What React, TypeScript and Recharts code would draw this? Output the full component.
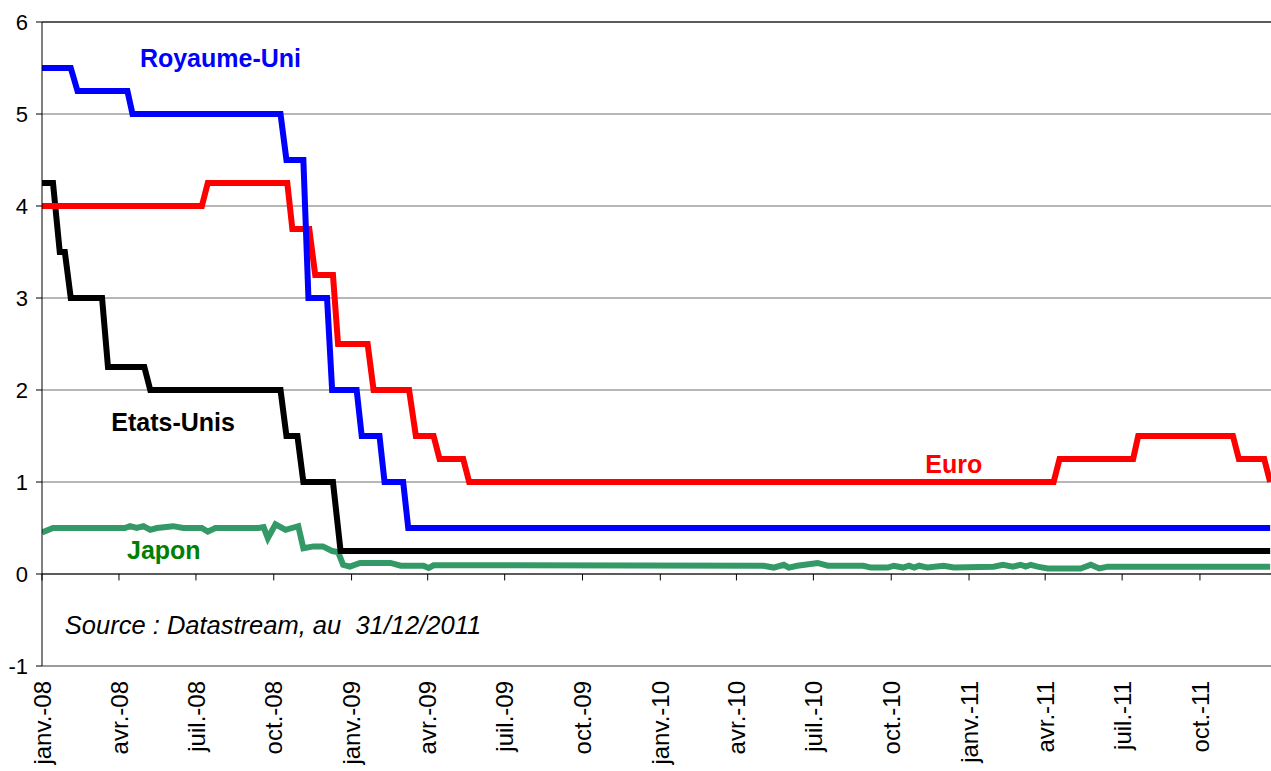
import {
  LineChart,
  Line,
  XAxis,
  YAxis,
  CartesianGrid,
  ReferenceLine,
  ReferenceDot,
} from "recharts";

// Policy rates, weekly sampling (corner points of each step)
const ROYAUME_UNI: [string, number][] = [
  ["2008-01-01", 5.5],
  ["2008-02-04", 5.5],
  ["2008-02-12", 5.25],
  ["2008-04-11", 5.25],
  ["2008-04-17", 5.0],
  ["2008-10-09", 5.0],
  ["2008-10-16", 4.5],
  ["2008-11-05", 4.5],
  ["2008-11-11", 3.0],
  ["2008-12-03", 3.0],
  ["2008-12-09", 2.0],
  ["2009-01-07", 2.0],
  ["2009-01-13", 1.5],
  ["2009-02-03", 1.5],
  ["2009-02-09", 1.0],
  ["2009-03-03", 1.0],
  ["2009-03-09", 0.5],
  ["2011-12-23", 0.5],
];

const EURO: [string, number][] = [
  ["2008-01-01", 4.0],
  ["2008-07-08", 4.0],
  ["2008-07-15", 4.25],
  ["2008-10-17", 4.25],
  ["2008-10-23", 3.75],
  ["2008-11-12", 3.75],
  ["2008-11-19", 3.25],
  ["2008-12-10", 3.25],
  ["2008-12-16", 2.5],
  ["2009-01-20", 2.5],
  ["2009-01-27", 2.0],
  ["2009-03-10", 2.0],
  ["2009-03-18", 1.5],
  ["2009-04-08", 1.5],
  ["2009-04-15", 1.25],
  ["2009-05-13", 1.25],
  ["2009-05-20", 1.0],
  ["2011-04-11", 1.0],
  ["2011-04-18", 1.25],
  ["2011-07-14", 1.25],
  ["2011-07-20", 1.5],
  ["2011-11-09", 1.5],
  ["2011-11-16", 1.25],
  ["2011-12-16", 1.25],
  ["2011-12-23", 1.0],
];

const ETATS_UNIS: [string, number][] = [
  ["2008-01-01", 4.25],
  ["2008-01-14", 4.25],
  ["2008-01-22", 3.5],
  ["2008-01-28", 3.5],
  ["2008-02-04", 3.0],
  ["2008-03-12", 3.0],
  ["2008-03-19", 2.25],
  ["2008-05-01", 2.25],
  ["2008-05-08", 2.0],
  ["2008-10-09", 2.0],
  ["2008-10-16", 1.5],
  ["2008-10-29", 1.5],
  ["2008-11-05", 1.0],
  ["2008-12-10", 1.0],
  ["2008-12-19", 0.25],
  ["2011-12-23", 0.25],
];

const JAPON: [string, number][] = [
  ["2008-01-01", 0.45],
  ["2008-01-14", 0.5],
  ["2008-04-08", 0.5],
  ["2008-04-14", 0.52],
  ["2008-04-22", 0.5],
  ["2008-04-30", 0.52],
  ["2008-05-08", 0.48],
  ["2008-05-16", 0.5],
  ["2008-06-04", 0.52],
  ["2008-06-16", 0.5],
  ["2008-07-08", 0.5],
  ["2008-07-15", 0.46],
  ["2008-07-24", 0.5],
  ["2008-09-13", 0.5],
  ["2008-09-19", 0.51],
  ["2008-09-24", 0.39],
  ["2008-10-03", 0.54],
  ["2008-10-15", 0.48],
  ["2008-10-30", 0.52],
  ["2008-11-05", 0.28],
  ["2008-11-17", 0.3],
  ["2008-11-28", 0.3],
  ["2008-12-09", 0.25],
  ["2008-12-16", 0.24],
  ["2008-12-22", 0.1],
  ["2008-12-30", 0.08],
  ["2009-01-11", 0.12],
  ["2009-02-16", 0.12],
  ["2009-02-28", 0.09],
  ["2009-03-27", 0.09],
  ["2009-04-02", 0.065],
  ["2009-04-08", 0.095],
  ["2010-05-03", 0.09],
  ["2010-05-15", 0.07],
  ["2010-05-27", 0.1],
  ["2010-06-02", 0.07],
  ["2010-06-12", 0.09],
  ["2010-07-06", 0.12],
  ["2010-07-18", 0.09],
  ["2010-08-29", 0.09],
  ["2010-09-07", 0.07],
  ["2010-09-27", 0.07],
  ["2010-10-04", 0.09],
  ["2010-10-15", 0.07],
  ["2010-10-22", 0.09],
  ["2010-10-28", 0.07],
  ["2010-11-03", 0.09],
  ["2010-11-13", 0.07],
  ["2010-12-02", 0.09],
  ["2010-12-14", 0.07],
  ["2011-01-30", 0.08],
  ["2011-02-10", 0.1],
  ["2011-02-22", 0.08],
  ["2011-03-03", 0.1],
  ["2011-03-09", 0.08],
  ["2011-03-15", 0.1],
  ["2011-03-23", 0.08],
  ["2011-04-04", 0.06],
  ["2011-05-13", 0.06],
  ["2011-05-25", 0.1],
  ["2011-06-04", 0.06],
  ["2011-06-14", 0.08],
  ["2011-12-23", 0.08],
];

const TICK_DATES = [
  "2008-01-01", "2008-04-01", "2008-07-01", "2008-10-01",
  "2009-01-01", "2009-04-01", "2009-07-01", "2009-10-01",
  "2010-01-01", "2010-04-01", "2010-07-01", "2010-10-01",
  "2011-01-01", "2011-04-01", "2011-07-01", "2011-10-01",
];
const TICK_LABELS = [
  "janv.-08", "avr.-08", "juil.-08", "oct.-08",
  "janv.-09", "avr.-09", "juil.-09", "oct.-09",
  "janv.-10", "avr.-10", "juil.-10", "oct.-10",
  "janv.-11", "avr.-11", "juil.-11", "oct.-11",
];
const Y_TICKS = [-1, 0, 1, 2, 3, 4, 5, 6];
const X_END = "2011-12-24";

// series name labels placed in data space
const ANNOTATIONS = [
  { text: "Royaume-Uni", date: "2008-07-30", value: 5.61, color: "#0000FF" },
  { text: "Etats-Unis", date: "2008-06-04", value: 1.65, color: "#000000" },
  { text: "Euro", date: "2010-12-14", value: 1.19, color: "#FF0000" },
  { text: "Japon", date: "2008-05-24", value: 0.26, color: "#008000" },
];
const SOURCE = { text: "Source : Datastream, au \u00a031/12/2011", date: "2008-01-28", value: -0.55 };

const BASE = Date.parse("2008-01-01");
const toDay = (d: string) => Math.round((Date.parse(d) - BASE) / 86400000);
const toPoints = (s: [string, number][]) => s.map(([d, v]) => ({ x: toDay(d), y: v }));

const FONT = "Arial, 'Liberation Sans', sans-serif";
const tickDays = TICK_DATES.map(toDay);
const labelOf: Record<number, string> = {};
tickDays.forEach((d, i) => (labelOf[d] = TICK_LABELS[i]));

function XTick(props: any) {
  const { x, y, payload } = props;
  return (
    <text
      x={x}
      y={y}
      dy="0.36em"
      transform={`rotate(-90, ${x}, ${y})`}
      textAnchor="end"
      fontSize={24}
      fontFamily={FONT}
      fill="#000"
    >
      {labelOf[payload.value]}
    </text>
  );
}

export default function App() {
  return (
    <div style={{ position: "absolute", left: 0, top: 0, fontFamily: FONT }}>
      <LineChart width={1271} height={771} margin={{ top: 22, right: 0, left: 0, bottom: 0 }}>
        <CartesianGrid vertical={false} stroke="#6e6e6e" />
        <XAxis
          type="number"
          dataKey="x"
          domain={[0, toDay(X_END)]}
          allowDataOverflow
          ticks={tickDays}
          interval={0}
          tick={<XTick />}
          tickLine={false}
          tickSize={0}
          tickMargin={15}
          height={105}
          axisLine={{ stroke: "#808080" }}
        />
        <YAxis
          type="number"
          domain={[-1, 6]}
          ticks={Y_TICKS}
          interval={0}
          width={42}
          tickSize={6}
          tickMargin={8}
          axisLine={{ stroke: "#000" }}
          tickLine={{ stroke: "#000" }}
          tick={{ fill: "#000", fontSize: 22, fontFamily: FONT }}
        />
        <ReferenceLine y={6} stroke="#000" />
        <ReferenceLine y={0} stroke="#000" />
        {tickDays.map((d) => (
          <ReferenceLine
            key={d}
            segment={[{ x: d, y: 0 }, { x: d, y: -0.07 }]}
            stroke="#000"
          />
        ))}
        <Line
          data={toPoints(JAPON)}
          dataKey="y"
          type="linear"
          stroke="#339966"
          strokeWidth={6}
          dot={false}
          isAnimationActive={false}
        />
        <Line
          data={toPoints(ETATS_UNIS)}
          dataKey="y"
          type="linear"
          stroke="#000000"
          strokeWidth={6}
          dot={false}
          isAnimationActive={false}
        />
        <Line
          data={toPoints(EURO)}
          dataKey="y"
          type="linear"
          stroke="#FF0000"
          strokeWidth={6}
          dot={false}
          isAnimationActive={false}
        />
        <Line
          data={toPoints(ROYAUME_UNI)}
          dataKey="y"
          type="linear"
          stroke="#0000FF"
          strokeWidth={6}
          dot={false}
          isAnimationActive={false}
        />
        {ANNOTATIONS.map((a) => (
          <ReferenceDot
            key={a.text}
            x={toDay(a.date)}
            y={a.value}
            r={0}
            fill="none"
            stroke="none"
            label={{
              value: a.text,
              position: "center",
              fill: a.color,
              fontSize: 25,
              fontWeight: "bold",
              fontFamily: FONT,
            }}
          />
        ))}
        <ReferenceDot
          x={toDay(SOURCE.date)}
          y={SOURCE.value}
          r={0}
          fill="none"
          stroke="none"
          label={{
            value: SOURCE.text,
            position: "right",
            offset: 0,
            fill: "#000",
            fontSize: 25.5,
            fontStyle: "italic",
            fontFamily: FONT,
          }}
        />
      </LineChart>
    </div>
  );
}
